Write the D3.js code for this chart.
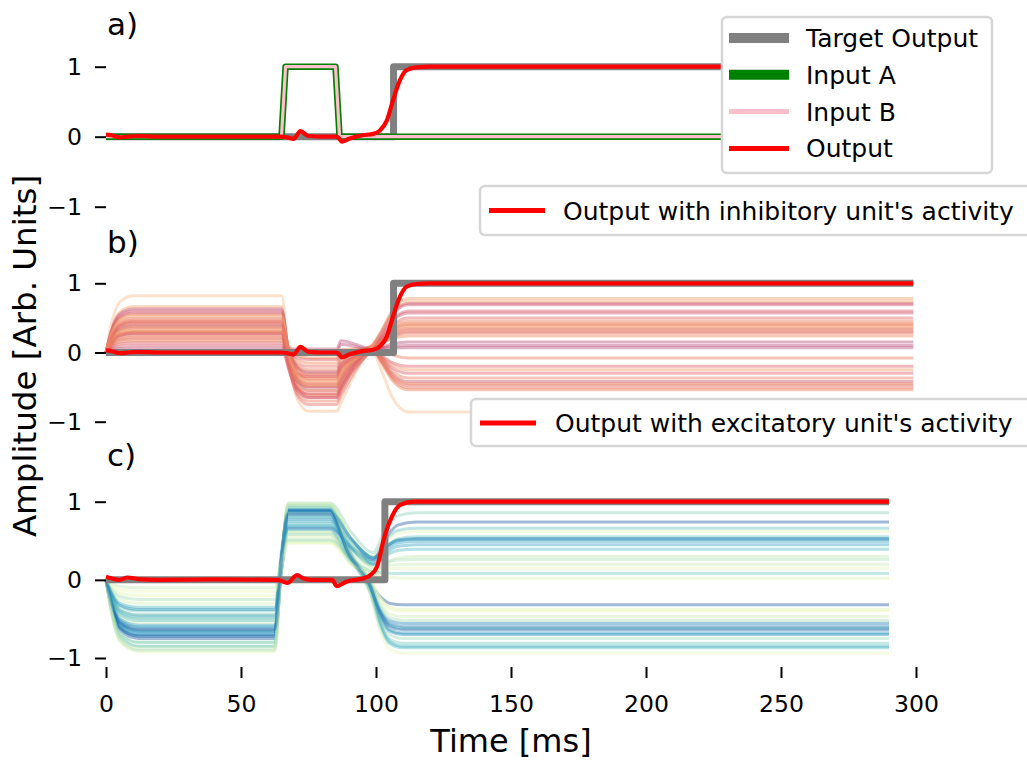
<!DOCTYPE html>
<html>
<head>
<meta charset="utf-8">
<script src="https://cdn.jsdelivr.net/npm/d3@7"></script>
<style>
  body { margin: 0; background: #fff; }
  svg { display: block; }
  text { font-family: "DejaVu Sans", sans-serif; fill: #000; }
</style>
</head>
<body>
<svg id="chart" width="1027" height="762"></svg>
<script>
// ---- axis ticks ----
const timeTicks = [0, 50, 100, 150, 200, 250, 300];
const ampTicks = [-1, 0, 1];

// ---- task signals (time in ms) ----
const inputTimes = [0, 65, 66.5, 85, 86.5, 300];
const inputA = [0, 0, 1, 1, 0, 0];
const inputB = [0, 0, 1, 1, 0, 0];

const targetTimes = [0, 106.5, 106.5, 299];
const targetValues = [0, 0, 1, 1];

const outputTimes = [0, 2, 5, 8, 12, 20, 40, 60, 65, 67, 69.5, 72, 75, 80, 85, 86, 87.3, 90, 95, 99, 101.5, 104, 106.3, 108.8, 111.3, 115, 120, 299];
const outputValues = [0.03, 0.02, -0.01, 0.0, 0.01, 0.0, 0.0, 0.0, 0.0, -0.01, -0.03, 0.08, 0.01, 0.0, 0.0, -0.01, -0.07, -0.03, 0.02, 0.04, 0.09, 0.23, 0.52, 0.80, 0.95, 0.99, 1.0, 1.0];

// excitatory-panel trial
const targetTimesC = [0, 103.3, 103.3, 290];
const targetValuesC = [0, 0, 1, 1];
const outputTimesC = [0, 2, 5, 8, 12, 20, 40, 62, 63.4, 65.5, 67.1, 70.8, 73, 75.8, 80, 83.8, 85.4, 89.3, 95.5, 97.9, 100.4, 102.8, 105.9, 109, 114, 120, 290];
const outputValuesC = [0.04, 0.02, 0.0, 0.03, 0.01, 0.0, 0.005, 0.0, 0.0, -0.02, -0.04, 0.06, 0.02, 0.0, 0.0, 0.0, -0.08, -0.02, 0.02, 0.06, 0.17, 0.51, 0.81, 0.96, 1.0, 1.0, 1.0];

// ---- inhibitory units: [baseline plateau, during inputs, at ~99 ms, final, shade] ----
const inhUnits = [
  [0.82, -0.85, 0.00, -0.86, 0.00],
  [0.66, -0.62, 0.10, 0.78, 0.15],
  [0.63, -0.55, 0.12, 0.71, 0.85],
  [0.60, -0.50, 0.10, 0.69, 0.70],
  [0.57, -0.65, 0.08, 0.57, 0.75],
  [0.55, -0.45, 0.10, 0.45, 0.40],
  [0.50, -0.40, 0.08, 0.40, 0.45],
  [0.47, -0.38, 0.10, 0.35, 0.35],
  [0.44, -0.60, 0.06, 0.30, 0.40],
  [0.40, -0.30, 0.09, 0.24, 0.30],
  [0.38, -0.28, 0.05, 0.07, 0.90],
  [0.35, -0.70, 0.10, -0.08, 0.40],
  [0.32, -0.55, 0.04, -0.25, 0.20],
  [0.30, -0.25, 0.06, -0.37, 0.40],
  [0.27, -0.50, 0.03, -0.42, 0.80],
  [0.25, -0.45, 0.05, -0.51, 0.45],
  [0.22, -0.35, 0.02, -0.54, 0.35],
  [0.20, -0.20, 0.08, 0.33, 0.50],
  [0.17, -0.15, 0.10, 0.42, 0.30],
  [0.14, -0.60, 0.02, -0.30, 0.60],
  [0.10, -0.10, 0.05, 0.60, 0.65],
  [0.06, 0.05, 0.05, 0.10, 0.90],
  [0.03, -0.35, 0.02, -0.47, 0.55],
  [0.45, -0.75, 0.05, 0.28, 0.50],
  [0.36, -0.48, 0.07, 0.38, 0.25],
  [0.28, -0.65, 0.02, -0.20, 0.60],
  [0.52, -0.42, 0.12, 0.74, 0.10],
  [0.42, -0.32, 0.06, 0.50, 0.55],
  [0.30, -0.08, 0.06, -0.45, 0.30],
  [-0.02, 0.00, 0.04, 0.15, 0.95]
];

// ---- excitatory units: [baseline plateau, during inputs, at ~99 ms, final, shade] ----
const excUnits = [
  [-0.90, 0.98, 0.35, 0.86, 0.35],
  [-0.72, 0.66, 0.25, 0.74, 0.90],
  [-0.65, 0.80, 0.30, 0.66, 0.45],
  [-0.85, 0.95, 0.30, 0.62, 0.05],
  [-0.70, 0.88, 0.28, 0.53, 0.80],
  [-0.68, 0.75, 0.25, 0.49, 0.60],
  [-0.60, 0.70, 0.20, 0.39, 0.50],
  [-0.50, 0.60, 0.18, 0.26, 0.25],
  [-0.45, 0.55, 0.12, 0.15, 0.08],
  [-0.40, 0.50, 0.10, 0.08, 0.40],
  [-0.30, 0.47, 0.08, 0.02, 0.12],
  [-0.75, 0.90, -0.05, -0.32, 0.90],
  [-0.20, 0.62, 0.00, -0.38, 0.08],
  [-0.55, 0.85, -0.02, -0.47, 0.15],
  [-0.72, 0.88, -0.10, -0.56, 0.75],
  [-0.62, 0.89, -0.12, -0.60, 0.80],
  [-0.58, 0.78, -0.10, -0.68, 0.65],
  [-0.66, 0.89, -0.15, -0.70, 0.72],
  [-0.80, 0.95, -0.15, -0.81, 0.40],
  [-0.85, 0.92, -0.18, -0.87, 0.50],
  [-0.92, 0.98, -0.20, -0.94, 0.05],
  [-0.10, 0.52, 0.05, 0.30, 0.20],
  [-0.35, 0.64, -0.05, -0.62, 0.55],
  [-0.52, 0.72, 0.22, 0.55, 0.45],
  [-0.80, 0.93, -0.12, -0.75, 0.30],
  [-0.45, 0.68, 0.20, 0.45, 0.62],
  [-0.25, 0.58, -0.05, -0.52, 0.28],
  [-0.88, 0.96, 0.15, 0.20, 0.18],
  [-0.48, 0.82, -0.08, -0.85, 0.58],
  [-0.38, 0.86, 0.28, 0.52, 0.70],
  [-0.15, 0.48, 0.02, -0.40, 0.03],
  [-0.64, 0.84, -0.10, -0.64, 0.85]
];

// ---- layout ----
const svg = d3.select("#chart");
const x = d3.scaleLinear().domain([0, 300]).range([106, 916]);
const yA = d3.scaleLinear().domain([-1, 1]).range([206.7, 66.7]);
const yB = d3.scaleLinear().domain([-1, 1]).range([421.7, 283.3]);
const yC = d3.scaleLinear().domain([-1, 1]).range([658, 501.7]);

const zip = (ts, vs) => ts.map((t, i) => [t, vs[i]]);
const lineFor = (y, curve) => d3.line().x(d => x(d[0])).y(d => y(d[1])).curve(curve || d3.curveLinear);

// unit activity traces through the trial phases
const inhKnots = ([p, q, c, f]) => [
  [0, 0], [2, 0.5 * p], [5, 0.88 * p], [10, p], [65, p],
  [67.5, (p + q) / 2], [71, q + 0.1 * (p - q)], [75, q], [85.5, q], [87, q + 0.12],
  [99, c], [102, c + 0.3 * (f - c)], [106, c + 0.75 * (f - c)], [112, f], [299, f]
];
const excKnots = ([p, q, c, f]) => {
  const head = [[0, 0], [2, 0.45 * p], [5, 0.85 * p], [12, p], [62.5, p],
    [65, p + 0.6 * (q - p)], [67.5, q], [83, q]];
  const tail = f >= 0
    ? [[91, q - 0.6 * (q - c)], [99, c], [103, c + 0.5 * (f - c)], [108, c + 0.92 * (f - c)], [115, f], [290, f]]
    : [[90, q - 0.55 * (q - c)], [98, c], [101.5, c + 0.6 * (f - c)], [105, c + 0.92 * (f - c)], [110, f], [290, f]];
  return head.concat(tail);
};

const inhColor = d3.scaleLinear().domain([0, 0.3, 0.6, 1])
  .range(["#f9bf8f", "#f08a5a", "#e0606a", "#b0507e"]);
const excColor = s => d3.interpolateYlGnBu(0.1 + 0.75 * s);

function yAxis(y) {
  const g = svg.append("g").attr("transform", "translate(106,0)")
    .call(d3.axisLeft(y).tickValues(ampTicks).tickFormat(d3.format("d")).tickSize(11).tickPadding(13));
  g.select(".domain").remove();
  g.selectAll(".tick line").attr("stroke", "#000").attr("stroke-width", 2);
  g.selectAll(".tick text").attr("font-size", 23.5).attr("font-family", "DejaVu Sans");
}

function path(data, y, color, width, opts = {}) {
  svg.append("path")
    .datum(data)
    .attr("d", lineFor(y, opts.curve)(data))
    .attr("fill", "none")
    .attr("stroke", color)
    .attr("stroke-width", width)
    .attr("stroke-opacity", opts.opacity == null ? 1 : opts.opacity)
    .attr("stroke-linejoin", "round")
    .attr("stroke-linecap", "butt");
}

// ---- panel a: task inputs and output ----
path(zip(targetTimes, targetValues).concat([[300, 1]]), yA, "#808080", 7);
path(zip(inputTimes, inputA), yA, "#008000", 6.5);
path(zip(inputTimes, inputB), yA, "#ffc0cb", 3.2);
path(zip(outputTimes, outputValues), yA, "#ff0000", 4.2, { curve: d3.curveMonotoneX });
yAxis(yA);

// ---- panel b: inhibitory units ----
inhUnits.forEach(u => path(inhKnots(u), yB, inhColor(u[4]), 3, { opacity: 0.45, curve: d3.curveMonotoneX }));
path(zip(targetTimes, targetValues), yB, "#808080", 7);
path(zip(outputTimes, outputValues), yB, "#ff0000", 4.2, { curve: d3.curveMonotoneX });
yAxis(yB);

// ---- panel c: excitatory units ----
excUnits.forEach(u => path(excKnots(u), yC, excColor(u[4]), 3, { opacity: 0.42, curve: d3.curveMonotoneX }));
path(zip(targetTimesC, targetValuesC), yC, "#808080", 7);
path(zip(outputTimesC, outputValuesC), yC, "#ff0000", 4.2, { curve: d3.curveMonotoneX });
yAxis(yC);

// time axis under the last panel
const gx = svg.append("g").attr("transform", "translate(0,667)")
  .call(d3.axisBottom(x).tickValues(timeTicks).tickSize(11).tickPadding(17));
gx.select(".domain").remove();
gx.selectAll(".tick line").attr("stroke", "#000").attr("stroke-width", 2);
gx.selectAll(".tick text").attr("font-size", 23.5).attr("font-family", "DejaVu Sans");

// ---- panel letters ----
[["a)", 35], ["b)", 253], ["c)", 466]].forEach(([s, yb]) =>
  svg.append("text").attr("x", 107).attr("y", yb).attr("font-size", 31).text(s));

// ---- axis titles ----
svg.append("text").attr("x", 511).attr("y", 752).attr("text-anchor", "middle")
  .attr("font-size", 32).text("Time [ms]");
svg.append("text").attr("transform", "translate(36,356) rotate(-90)")
  .attr("text-anchor", "middle").attr("font-size", 32.5).text("Amplitude [Arb. Units]");

// ---- legends ----
function legendBox(x0, y0, w, h) {
  svg.append("rect").attr("x", x0).attr("y", y0).attr("width", w).attr("height", h)
    .attr("rx", 5).attr("fill", "#fff").attr("stroke", "#d6d6d6").attr("stroke-width", 2.5);
}
function legendRow(x0, x1, yc, tx, color, width, label) {
  svg.append("line").attr("x1", x0).attr("x2", x1).attr("y1", yc).attr("y2", yc)
    .attr("stroke", color).attr("stroke-width", width);
  svg.append("text").attr("x", tx).attr("y", yc + 9).attr("font-size", 25).text(label);
}

legendBox(722, 17, 270, 156);
const legendA = [
  ["Target Output", "#808080", 10],
  ["Input A", "#008000", 10],
  ["Input B", "#ffc0cb", 5],
  ["Output", "#ff0000", 5]
];
legendA.forEach(([label, color, w], i) =>
  legendRow(729, 789, 38 + i * 36.8, 806, color, w, label));

legendBox(480, 186, 560, 49);
legendRow(489, 545, 210.5, 563, "#ff0000", 5, "Output with inhibitory unit's activity");

legendBox(471, 399, 570, 47);
legendRow(480, 536, 423, 555, "#ff0000", 5, "Output with excitatory unit's activity");
</script>
</body>
</html>
